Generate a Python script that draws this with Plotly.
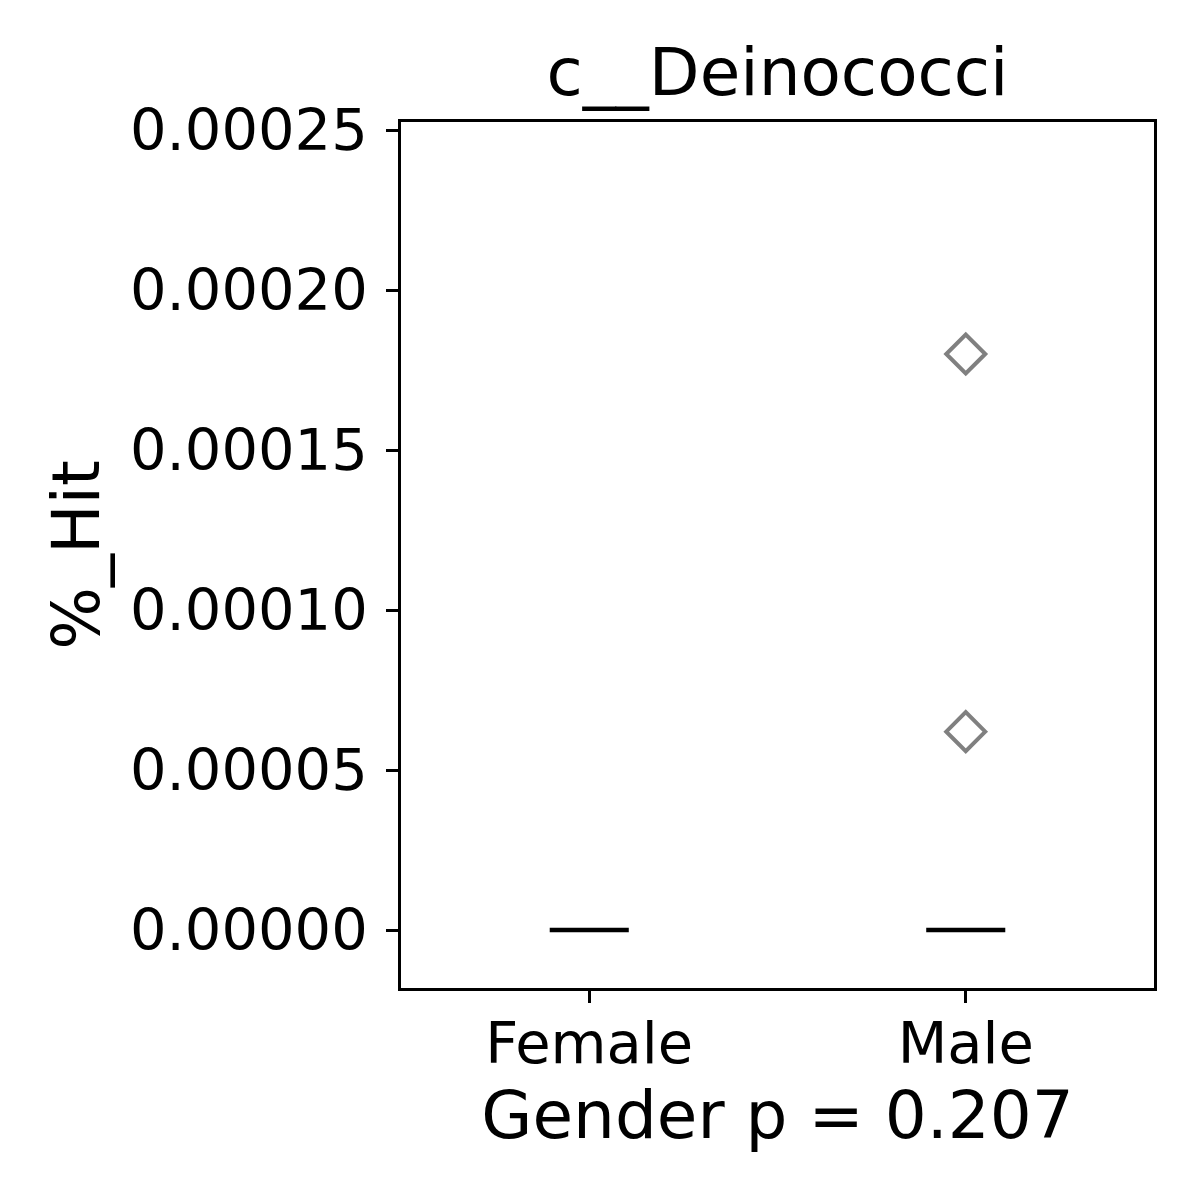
import plotly.graph_objects as go

# Data
categories = ["Female", "Male"]
q1 = [0.0, 0.0]
median = [0.0, 0.0]
q3 = [0.0, 0.0]
lowerfence = [0.0, 0.0]
upperfence = [0.0, 0.0]
outlier_x = ["Male", "Male"]
outlier_y = [0.000180, 0.0000620]
ytick_vals = [0.0, 0.00005, 0.00010, 0.00015, 0.00020, 0.00025]
title_text = "c__Deinococci"
xlabel = "Gender p = 0.207"
ylabel = "%_Hit"

FONT = "DejaVu Sans"

fig = go.Figure()
fig.add_trace(go.Box(
    x=categories, q1=q1, median=median, q3=q3,
    lowerfence=lowerfence, upperfence=upperfence,
    width=0.21, whiskerwidth=0,
    line=dict(color="black", width=4.5),
    fillcolor="rgba(0,0,0,0)",
    boxpoints=False, showlegend=False, hoverinfo="skip",
))
fig.add_trace(go.Scatter(
    x=outlier_x, y=outlier_y, mode="markers",
    marker=dict(symbol="diamond-open", size=30, color="#808080",
                line=dict(color="#808080", width=4)),
    showlegend=False,
))

fig.update_layout(
    width=1200, height=1200,
    margin=dict(l=393, r=54, t=114, b=220, pad=0),
    paper_bgcolor="white", plot_bgcolor="white",
    font=dict(family=FONT, color="black", size=57),
    title=dict(text=title_text, x=0.5, xref="paper", xanchor="center",
               y=1, yref="paper", yanchor="bottom",
               pad=dict(b=27), font=dict(size=66, family=FONT)),
)
fig.update_xaxes(
    type="category", categoryorder="array", categoryarray=categories,
    range=[-0.5, 1.5],
    showline=True, linecolor="black", linewidth=2.5, mirror=True,
    ticks="outside", ticklen=12, tickwidth=2.5, tickcolor="black",
    showgrid=False, zeroline=False,
    tickfont=dict(size=57.5, family=FONT),
    ticklabelstandoff=-9,
    title=dict(text=xlabel, font=dict(size=66, family=FONT), standoff=17),
)
fig.update_yaxes(
    range=[-0.0000181, 0.0002525],
    tickvals=ytick_vals, tickformat=".5f",
    showline=True, linecolor="black", linewidth=2.5, mirror=True,
    ticks="outside", ticklen=12, tickwidth=2.5, tickcolor="black",
    showgrid=False, zeroline=False,
    tickfont=dict(size=57.5, family=FONT),
    ticklabelstandoff=7,
    title=dict(text=ylabel, font=dict(size=66, family=FONT), standoff=9),
)

fig.write_html("out.html")
